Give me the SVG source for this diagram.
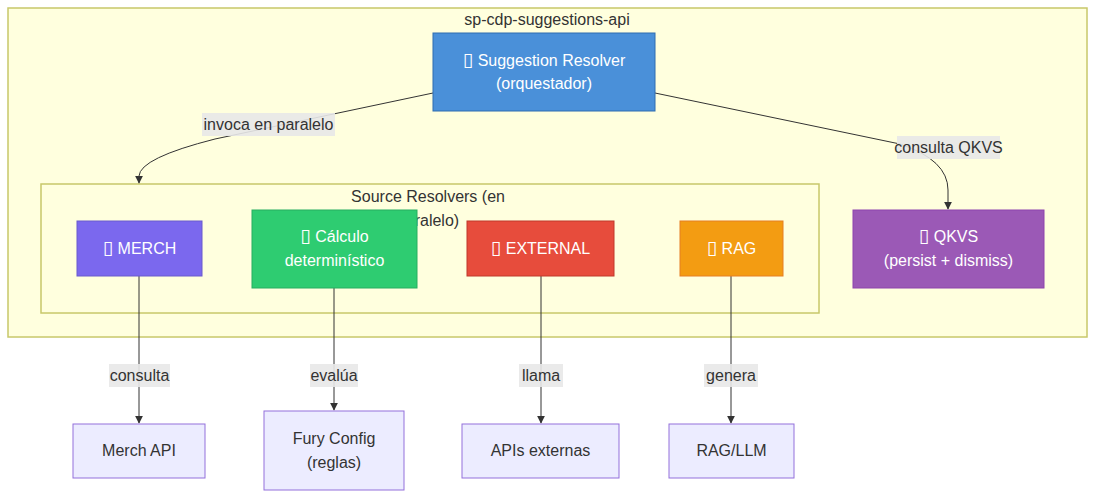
<svg xmlns="http://www.w3.org/2000/svg" width="1095" height="498" viewBox="0 0 1095 498">
<style>
text{font-family:"Liberation Sans",Arial,sans-serif;font-size:16px;text-anchor:middle;}
.dark{fill:#333;}
.w{fill:#fff;}
.cl{fill:#ffffde;stroke:#c8c86a;stroke-width:1.5;}
.ext{fill:#ececff;stroke:#9370db;stroke-width:1;}
.edge{fill:none;stroke:#333;stroke-width:1;}
.lbl{fill:#e8e8e8;opacity:0.9;}
.ic{font-family:"DejaVu Sans",sans-serif;font-size:19px;}
</style>
<defs>
<marker id="arr" viewBox="0 0 10 10" refX="9" refY="5" markerWidth="8" markerHeight="8" orient="auto" markerUnits="userSpaceOnUse">
<path d="M0,0 L10,5 L0,10 z" fill="#333"/>
</marker>
</defs>
<rect width="1095" height="498" fill="#fff"/>
<g id="cluster-api">
<rect class="cl" x="8" y="8" width="1079" height="329"/>
<text class="dark" x="547" y="25">sp-cdp-suggestions-api</text>
</g>
<g id="cluster-sources">
<rect class="cl" x="41" y="184" width="778" height="129"/>
<text class="dark" x="428" y="202">Source Resolvers (en</text>
<text class="dark" x="428" y="226">paralelo)</text>
</g>
<g id="edges">
<path class="edge" d="M433,93 L215,139 Q140,158 139,176 L139,183" marker-end="url(#arr)"/>
<path class="edge" d="M655,93 L900,144 Q948,160 948,190 L948,209" marker-end="url(#arr)"/>
<path class="edge" d="M139,276 L139,423" marker-end="url(#arr)"/>
<path class="edge" d="M334,288 L334,410" marker-end="url(#arr)"/>
<path class="edge" d="M541,276 L541,423" marker-end="url(#arr)"/>
<path class="edge" d="M731,276 L731,423" marker-end="url(#arr)"/>
<rect class="lbl" x="202" y="113" width="133" height="23"/>
<text class="dark" x="268.5" y="130">invoca en paralelo</text>
<rect class="lbl" x="897" y="136" width="103" height="23"/>
<text class="dark" x="948.5" y="153">consulta QKVS</text>
<rect class="lbl" x="109" y="364" width="61" height="23"/>
<text class="dark" x="139.5" y="381">consulta</text>
<rect class="lbl" x="310" y="364" width="48" height="23"/>
<text class="dark" x="334" y="381">evalúa</text>
<rect class="lbl" x="519" y="364" width="44" height="23"/>
<text class="dark" x="541" y="381">llama</text>
<rect class="lbl" x="704" y="364" width="54" height="23"/>
<text class="dark" x="731" y="381">genera</text>
</g>
<g id="resolver">
<rect x="433" y="33" width="222" height="78" fill="#4a90d9" stroke="#2f6db0"/>
<text class="w" x="544" y="66"><tspan class="ic">▯</tspan> Suggestion Resolver</text>
<text class="w" x="544" y="89">(orquestador)</text>
</g>
<g id="merch">
<rect x="77" y="221" width="125" height="55" fill="#7b68ee" stroke="#6a5acd"/>
<text class="w" x="139.5" y="254"><tspan class="ic">▯</tspan> MERCH</text>
</g>
<g id="calculo">
<rect x="252" y="210" width="165" height="78" fill="#2ecc71" stroke="#27ae60"/>
<text class="w" x="334.5" y="242"><tspan class="ic">▯</tspan> Cálculo</text>
<text class="w" x="334.5" y="266">determinístico</text>
</g>
<g id="external">
<rect x="467" y="221" width="147" height="55" fill="#e74c3c" stroke="#c0392b"/>
<text class="w" x="540.5" y="254"><tspan class="ic">▯</tspan> EXTERNAL</text>
</g>
<g id="rag">
<rect x="680" y="221" width="103" height="55" fill="#f39c12" stroke="#e67e22"/>
<text class="w" x="731.5" y="254"><tspan class="ic">▯</tspan> RAG</text>
</g>
<g id="qkvs">
<rect x="853" y="210" width="191" height="78" fill="#9b59b6" stroke="#8e44ad"/>
<text class="w" x="948.5" y="242"><tspan class="ic">▯</tspan> QKVS</text>
<text class="w" x="948.5" y="266">(persist + dismiss)</text>
</g>
<g id="merch-api">
<rect class="ext" x="73" y="424" width="132" height="54"/>
<text class="dark" x="139" y="456">Merch API</text>
</g>
<g id="fury-config">
<rect class="ext" x="264" y="411" width="140" height="79"/>
<text class="dark" x="334" y="444">Fury Config</text>
<text class="dark" x="334" y="468">(reglas)</text>
</g>
<g id="apis-externas">
<rect class="ext" x="462" y="424" width="157" height="54"/>
<text class="dark" x="540.5" y="456">APIs externas</text>
</g>
<g id="rag-llm">
<rect class="ext" x="669" y="424" width="125" height="54"/>
<text class="dark" x="731.5" y="456">RAG/LLM</text>
</g>
</svg>
